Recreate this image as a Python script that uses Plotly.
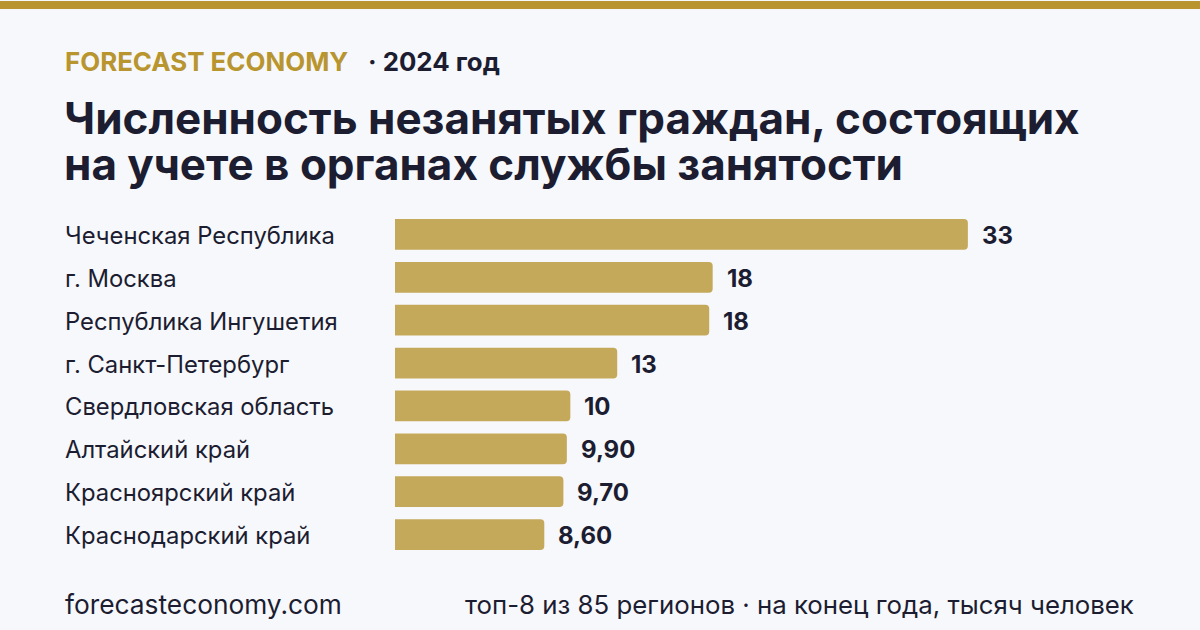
import plotly.graph_objects as go

regions = ["Чеченская Республика", "г. Москва", "Республика Ингушетия", "г. Санкт-Петербург",
           "Свердловская область", "Алтайский край", "Красноярский край", "Краснодарский край"]
values = [33, 18.3, 18.1, 12.8, 10.1, 9.9, 9.7, 8.6]

brand = "FORECAST ECONOMY"
year_txt = "· 2024 год"
title_lines = ["Численность незанятых граждан, состоящих", "на учете в органах службы занятости"]
footer_left = "forecasteconomy.com"
footer_right = "топ-8 из 85 регионов · на конец года, тысяч человек"

W, H = 1200, 630
L, R = 395, 1135
T, B = 212.5, 556.5
FONT = "Inter"
DARK = "#1c1d31"
GOLD = "#b8952f"
BAR = "#c5a95b"
BG = "#f7f8fc"


def fmt(v):
    if v >= 10:
        return str(int(round(v)))
    return f"{v:.2f}".replace(".", ",")


def px(x):
    return (x - L) / (R - L)


def py(y):
    return (B - y) / (B - T)


fig = go.Figure()
fig.add_trace(go.Bar(
    x=values, y=regions, orientation="h",
    marker=dict(color=BAR, line=dict(width=0)),
    hoverinfo="skip",
))

ann = []
for r, v in zip(regions, values):
    ann.append(dict(x=px(63), xref="paper", y=r, yref="y", text=r, showarrow=False,
                    xanchor="left", yanchor="middle", yshift=-1,
                    font=dict(family=FONT, size=23.8, color=DARK)))
    ann.append(dict(x=v, xref="x", y=r, yref="y", text=f"<b>{fmt(v)}</b>", showarrow=False,
                    xanchor="left", yanchor="middle", xshift=12, yshift=-1,
                    font=dict(family=FONT, size=24, color=DARK)))

ann.append(dict(x=px(63), xref="paper", y=py(61), yref="paper", text=f"<b>{brand}</b>",
                showarrow=False, xanchor="left", yanchor="middle",
                font=dict(family=FONT, size=25.9, color=GOLD)))
ann.append(dict(x=px(366), xref="paper", y=py(61), yref="paper", text=f"<b>{year_txt}</b>",
                showarrow=False, xanchor="left", yanchor="middle",
                font=dict(family=FONT, size=25.8, color=DARK)))
for i, line in enumerate(title_lines):
    ann.append(dict(x=px(62), xref="paper", y=py(117 + 46 * i), yref="paper",
                    text=f"<b>{line}</b>", showarrow=False, xanchor="left", yanchor="middle",
                    font=dict(family=FONT, size=44, color=DARK)))
ann.append(dict(x=px(63), xref="paper", y=py(605), yref="paper", text=footer_left,
                showarrow=False, xanchor="left", yanchor="middle",
                font=dict(family=FONT, size=26.3, color=DARK)))
ann.append(dict(x=px(1136), xref="paper", y=py(605), yref="paper", text=footer_right,
                showarrow=False, xanchor="right", yanchor="middle",
                font=dict(family=FONT, size=25.8, color=DARK)))

shapes = [dict(type="rect", xref="paper", yref="paper", x0=px(0), x1=px(W),
               y0=py(8), y1=py(0), fillcolor=GOLD, line=dict(width=0), layer="above")]

fig.update_layout(
    width=W, height=H,
    margin=dict(l=L, r=W - R, t=T, b=H - B, pad=0),
    paper_bgcolor=BG, plot_bgcolor=BG,
    bargap=0.28, barcornerradius=4,
    showlegend=False,
    xaxis=dict(range=[0, (R - L) / 17.36], visible=False, fixedrange=True),
    yaxis=dict(range=[7.5, -0.5], visible=False, fixedrange=True, type="category"),
    annotations=ann, shapes=shapes,
)

fig.write_html("out.html", config={"displayModeBar": False})
